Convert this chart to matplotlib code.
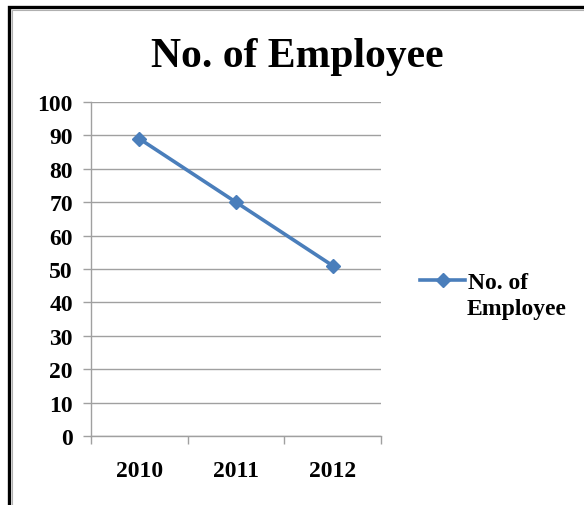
import matplotlib
matplotlib.use('Agg')
import matplotlib.pyplot as plt
from matplotlib.patches import Rectangle
from matplotlib.ticker import FixedLocator

years = ['2010', '2011', '2012']
employees = [89, 70, 51]
series_name = 'No. of Employee'

W, H = 584, 506
fig = plt.figure(figsize=(W / 100, H / 100), dpi=100)
plt.rcParams['font.family'] = ['Liberation Serif', 'DejaVu Serif']

# frame around the chart (only top and left edges fall inside the image)
fig.patches.append(Rectangle((8.5 / W, -0.1), 1.2, (H - 8.0) / H + 0.1,
                             transform=fig.transFigure, fill=False,
                             edgecolor='black', linewidth=2.4))
fig.patches.append(Rectangle((11.5 / W, -0.1), 1.2, (H - 10.8) / H + 0.1,
                             transform=fig.transFigure, fill=False,
                             edgecolor='#b0b0b0', linewidth=0.8))

ax = fig.add_axes([91 / W, (H - 437) / H, (381 - 91) / W, (437 - 103) / H])
x = range(len(years))
ax.plot(x, employees, color='#4a7ebb', linewidth=2.6, marker='D',
        markersize=7, label=series_name)

ax.set_xlim(-0.5, len(years) - 0.5)
ax.set_ylim(0, 100)
ax.set_yticks(range(0, 101, 10))
ax.yaxis.grid(True, color='#a0a0a0', linewidth=1)
ax.set_axisbelow(True)
for s in ['top', 'right']:
    ax.spines[s].set_visible(False)
for s in ['left', 'bottom']:
    ax.spines[s].set_color('#a0a0a0')
    ax.spines[s].set_linewidth(1)

ax.set_xticks(list(x))
ax.set_xticklabels(years, fontsize=17, fontweight='bold')
ax.tick_params(axis='x', length=0, pad=17)
ax.xaxis.set_minor_locator(FixedLocator([i - 0.5 for i in range(len(years) + 1)]))
ax.tick_params(axis='x', which='minor', length=6, color='#a0a0a0', width=1)
ax.tick_params(axis='y', length=6, color='#a0a0a0', width=1, pad=7)
for lab in ax.get_yticklabels():
    lab.set_fontsize(17)
    lab.set_fontweight('bold')

fig.text(297 / W, 1 - 57 / H, 'No. of Employee', ha='center', va='center',
         fontsize=30, fontweight='bold')

# legend: handle sits next to the first line of the wrapped series name
first, second = series_name.rsplit(' ', 1)
ax.legend(loc='center left', bbox_to_anchor=(1.136, (437 - 283) / (437 - 103)),
          frameon=False, handlelength=1.9, handletextpad=0.1,
          borderpad=0, borderaxespad=0,
          prop={'size': 17, 'weight': 'bold'}, labels=[first])
fig.text(467 / W, 1 - 310 / H, second, ha='left', va='center',
         fontsize=17, fontweight='bold')

fig.savefig('out.png', dpi=100)
